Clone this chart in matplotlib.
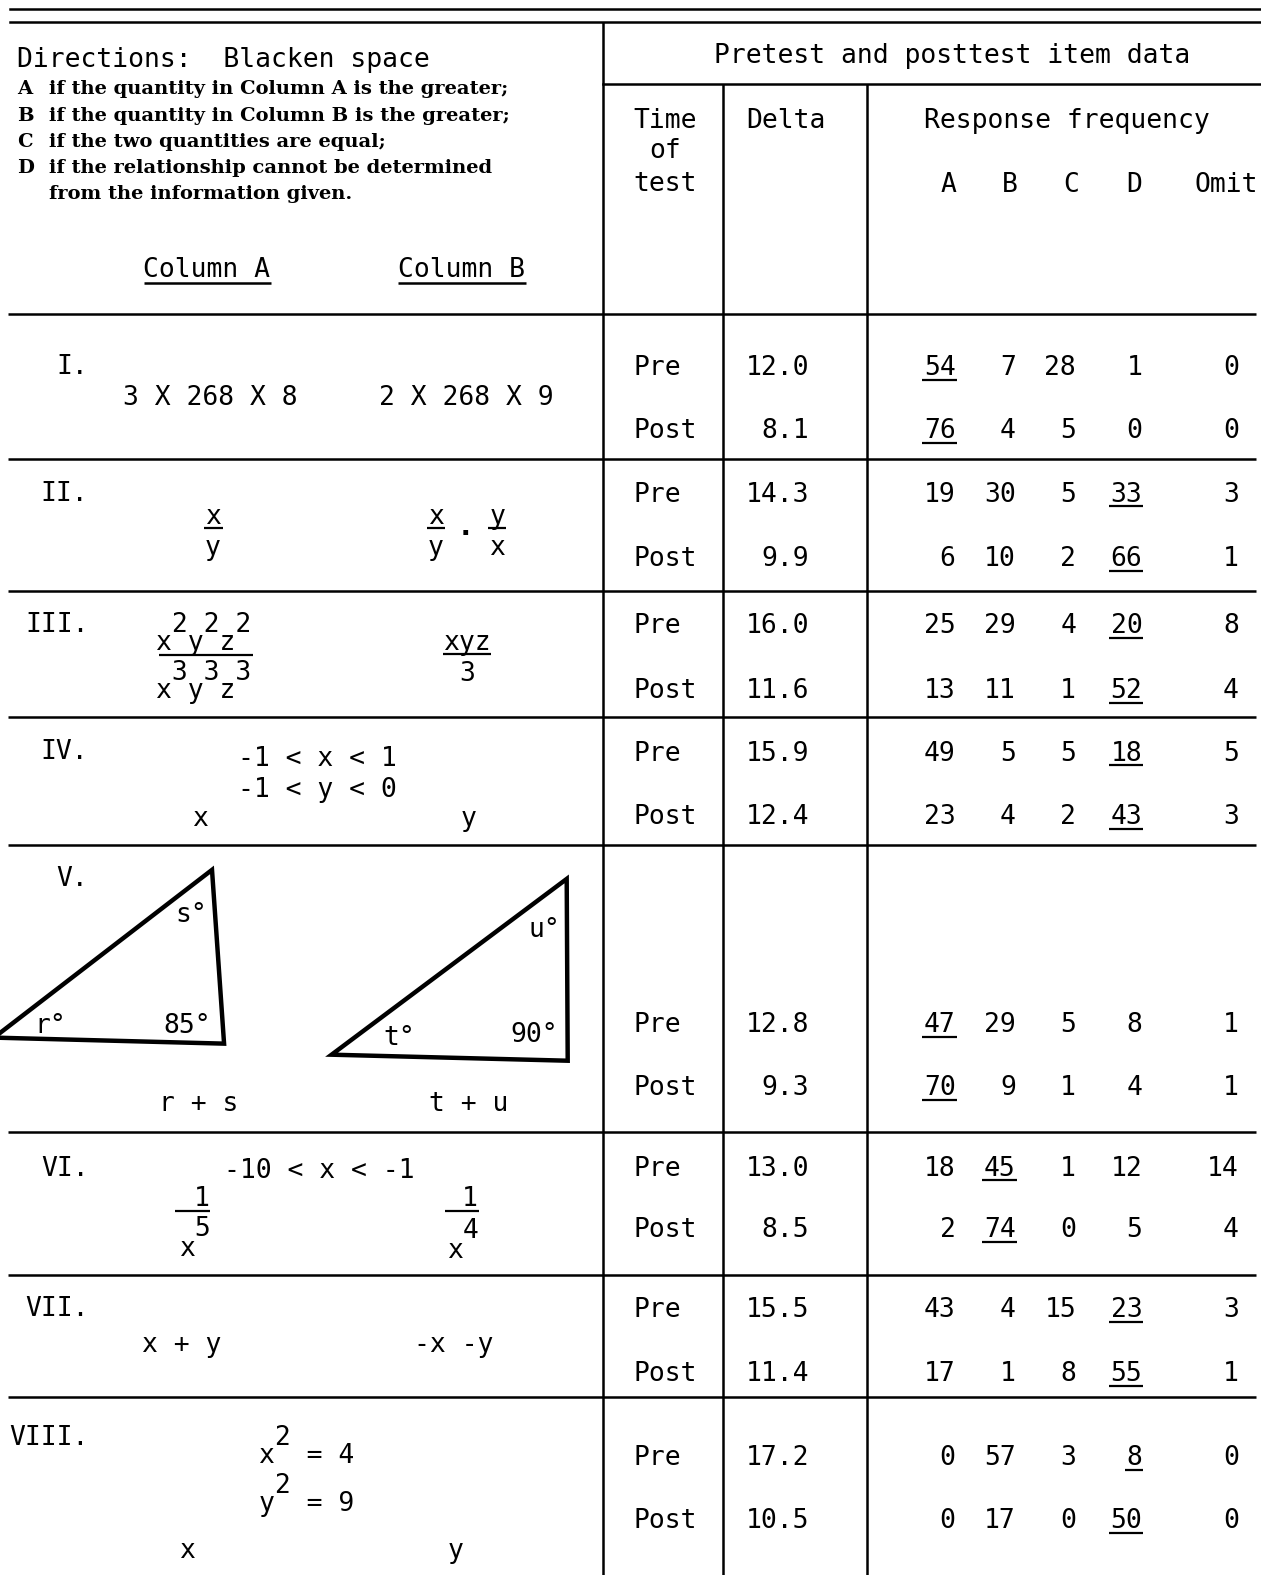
import matplotlib
matplotlib.use("Agg")
import matplotlib.pyplot as plt

# ---- data ----
items = ["I.", "II.", "III.", "IV.", "V.", "VI.", "VII.", "VIII."]
times = ["Pre", "Post"]
resp_cols = ["A", "B", "C", "D", "Omit"]
delta_pre = [12.0, 14.3, 16.0, 15.9, 12.8, 13.0, 15.5, 17.2]
delta_post = [8.1, 9.9, 11.6, 12.4, 9.3, 8.5, 11.4, 10.5]
freq_pre = [[54, 7, 28, 1, 0], [19, 30, 5, 33, 3], [25, 29, 4, 20, 8], [49, 5, 5, 18, 5],
            [47, 29, 5, 8, 1], [18, 45, 1, 12, 14], [43, 4, 15, 23, 3], [0, 57, 3, 8, 0]]
freq_post = [[76, 4, 5, 0, 0], [6, 10, 2, 66, 1], [13, 11, 1, 52, 4], [23, 4, 2, 43, 3],
             [70, 9, 1, 4, 1], [2, 74, 0, 5, 4], [17, 1, 8, 55, 1], [0, 17, 0, 50, 0]]
keys = ["A", "D", "D", "D", "A", "B", "D", "D"]
directions = [("A", "if the quantity in Column A is the greater;"),
              ("B", "if the quantity in Column B is the greater;"),
              ("C", "if the two quantities are equal;"),
              ("D", "if the relationship cannot be determined"),
              ("", "from the information given.")]

# ---- layout (reference pixels) ----
W, H = 1255, 1568
row_lines = [313, 457, 588, 714, 841, 1127, 1269, 1391]
label_y = [362, 488, 619, 745, 872, 1160, 1300, 1428]
pre_y = [363, 489, 620, 747, 1017, 1160, 1301, 1448]
post_y = [426, 553, 685, 810, 1080, 1221, 1365, 1511]
freq_right = [951, 1011, 1071, 1137, 1233]
col_head_x = [944, 1005, 1066, 1129, 1220]

MONO = "DejaVu Sans Mono"
FS = 19
LW = 1.8
CW = 0.602 * FS / 0.72 * W / 1261  # mono char width in ref px

fig = plt.figure(figsize=(12.61, 15.75), dpi=100)
ax = fig.add_axes([0, 0, 1, 1])
ax.set_xlim(0, W)
ax.set_ylim(H, 0)
ax.axis("off")


def t(x, y, s, ha="center", fs=FS, **kw):
    # y is the visual middle of capitals; draw on baseline
    ax.text(x, y + 0.39 * fs / 0.72, s, ha=ha, va="baseline", fontsize=fs,
            family=MONO, color="black", **kw)


def bar(x0, x1, y, lw=1.6):
    ax.plot([x0, x1], [y, y], color="black", lw=lw, solid_capstyle="butt")


def sup(x_left, y, base, exps, ls=0.6):
    # typewriter style exponents: a raised line of digits above the base line
    t(x_left, y, exps + "\n" + base, ha="left", linespacing=ls, multialignment="left")


# ---- rules ----
ax.plot([10, W], [9, 9], color="black", lw=LW)
ax.plot([10, W], [22, 22], color="black", lw=LW)
ax.plot([600, W], [84, 84], color="black", lw=LW)
ax.hlines(row_lines, 8, 1250, color="black", lw=LW)
ax.vlines(600, 22, H, color="black", lw=LW)
ax.vlines([720, 863], 84, H, color="black", lw=LW)

# ---- left header ----
t(17, 56, "Directions:  Blacken space", ha="left")
for i, (letter, line) in enumerate(directions):
    yy = 88 + 26 * i
    ax.text(17, yy + 6, letter, ha="left", va="baseline", fontsize=14,
            family="DejaVu Serif", weight="bold")
    ax.text(49, yy + 6, line, ha="left", va="baseline", fontsize=14,
            family="DejaVu Serif", weight="bold")
t(206, 265, "Column A")
bar(143, 270, 282, lw=1.8)
t(459, 265, "Column B")
bar(396, 523, 282, lw=1.8)

# ---- right header ----
t(948, 52, "Pretest and posttest item data")
t(662, 117, "Time")
t(662, 147, "of")
t(662, 180, "test")
t(782, 117, "Delta")
t(1062, 117, "Response frequency")
for cx, c in zip(col_head_x, resp_cols):
    t(cx, 181, c)

# ---- data rows ----
for i, item in enumerate(items):
    t(88, label_y[i], item, ha="right")
    k = resp_cols.index(keys[i])
    for yy, lab, d, fr in [(pre_y[i], times[0], delta_pre[i], freq_pre[i]),
                           (post_y[i], times[1], delta_post[i], freq_post[i])]:
        t(630, yy, lab, ha="left")
        t(805, yy, f"{d:.1f}", ha="right")
        for j, v in enumerate(fr):
            s = str(v)
            t(freq_right[j], yy, s, ha="right")
            if j == k:
                bar(freq_right[j] - len(s) * CW - 2, freq_right[j] + 1, yy + 15)

# ---- item expressions ----
# I
t(209, 393, "3 X 268 X 8")
t(464, 393, "2 X 268 X 9")
# II
t(212, 511, "x"); bar(203, 222, 526); t(212, 542, "y")
t(434, 511, "x"); bar(425, 443, 526); t(434, 542, "y")
t(463, 528, "·", fs=21, weight="bold")
t(495, 511, "y"); bar(486, 504, 526); t(495, 542, "x")
# III
sup(155, 637, "x y z", " 2 2 2")
bar(158, 252, 652)
sup(155, 685, "x y z", " 3 3 3")
t(465, 637, "xyz"); bar(441, 489, 651); t(465, 668, "3")
# IV
t(316, 752, "-1 < x < 1")
t(316, 783, "-1 < y < 0")
t(199, 812, "x")
t(466, 812, "y")
# V
tri1 = [(-6, 1033), (211, 866), (223, 1039)]
tri2 = [(330, 1050), (564, 875), (565, 1056)]
for tri in (tri1, tri2):
    ax.add_patch(plt.Polygon(tri, closed=True, fill=False, ec="black", lw=3.2,
                             joinstyle="miter"))
t(190, 908, "s°"); t(50, 1018, "r°"); t(186, 1018, "85°")
t(542, 923, "u°"); t(397, 1030, "t°"); t(532, 1027, "90°")
t(198, 1096, "r + s")
t(466, 1096, "t + u")
# VI
t(318, 1162, "-10 < x < -1")
t(201, 1190, "1"); bar(174, 209, 1206); sup(178, 1240, "x", " 5", ls=0.67)
t(468, 1190, "1"); bar(443, 477, 1206); sup(445, 1242, "x", " 4", ls=0.67)
# VII
t(181, 1336, "x + y")
t(452, 1336, "-x -y")
# VIII
sup(258, 1446, "x  = 4", " 2")
sup(258, 1494, "y  = 9", " 2")
t(186, 1541, "x")
t(453, 1541, "y")

fig.savefig("out.png", dpi=100, facecolor="white")
